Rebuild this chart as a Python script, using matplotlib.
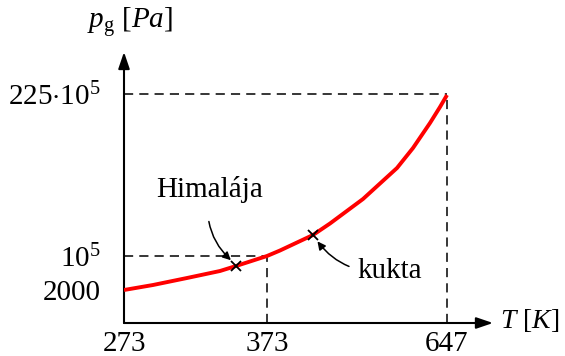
import numpy as np
import matplotlib
matplotlib.use("Agg")
import matplotlib.pyplot as plt

plt.rcParams['font.family'] = ['Liberation Serif', 'DejaVu Serif']
plt.rcParams['mathtext.fontset'] = 'custom'
plt.rcParams['mathtext.rm'] = 'Liberation Serif'
plt.rcParams['mathtext.it'] = 'Liberation Serif:italic'

# schematic (not to scale) positions
curve_x = [0, 29, 63, 96, 112, 143, 156, 189, 206, 239, 273, 289, 306, 316, 323]
curve_y = [33, 38, 45, 52, 57, 67, 72.5, 88, 99.5, 124, 155, 175, 200, 216, 228]

x_ticks = [1, 143, 323]
x_labels = ['273', '373', '647']
y_ticks = [33, 67, 229]
y_labels = ['2000', '$10^5$', '$225{\\cdot}10^5$']

# marked points: Himalaja, pressure cooker
mark_x = [112, 189]
mark_y = [57, 88]

fig = plt.figure(figsize=(5.65, 3.56), dpi=100)
ax = fig.add_axes([124/565, 33/356, 369/565, 271/356])
ax.set_xlim(0, 369)
ax.set_ylim(0, 271)
for s in ax.spines.values():
    s.set_visible(False)

# axes with arrows
axis_arrow = dict(arrowstyle='-|>,head_length=0.5,head_width=0.17', lw=1.5, color='k',
                  mutation_scale=20, shrinkA=0, shrinkB=0)
ax.annotate('', xy=(369, 0), xytext=(0, 0), arrowprops=axis_arrow, annotation_clip=False)
ax.annotate('', xy=(0, 271), xytext=(0, 0), arrowprops=axis_arrow, annotation_clip=False)

# dashed guide lines
dash = dict(color='k', lw=1.1, linestyle=(0, (6, 4)))
ax.plot([0, x_ticks[1]], [y_ticks[1], y_ticks[1]], **dash)
ax.plot([x_ticks[1], x_ticks[1]], [0, y_ticks[1]], **dash)
ax.plot([0, x_ticks[2]], [y_ticks[2], y_ticks[2]], **dash)
ax.plot([x_ticks[2], x_ticks[2]], [0, y_ticks[2]], **dash)

# vapour pressure curve
ax.plot(curve_x, curve_y, color='red', lw=2.8, solid_capstyle='butt',
        solid_joinstyle='round', zorder=3)
ax.plot(mark_x, mark_y, 'x', color='k', ms=7, mew=1.3, zorder=4)

ax.set_xticks(x_ticks)
ax.set_xticklabels(x_labels, fontsize=21)
ax.set_yticks(y_ticks)
ax.set_yticklabels(y_labels, fontsize=21)
ax.tick_params(length=0)
ax.tick_params(axis='x', pad=6)
ax.tick_params(axis='y', pad=17)

ax.text(6, 301, '$p_{\\mathrm{g}}$ $[Pa]$', fontsize=21, ha='center', va='center')
ax.text(376, 3, '$T$ $[K]$', fontsize=20, ha='left', va='center')

ax.annotate('Himalája', xy=(110, 60), xytext=(86, 133), fontsize=21,
            ha='center', va='center',
            arrowprops=dict(arrowstyle='-|>', color='k', lw=1.1, mutation_scale=12,
                            connectionstyle='arc3,rad=0.3', shrinkA=11, shrinkB=3))
ax.annotate('kukta', xy=(191, 85), xytext=(233, 52), fontsize=21,
            ha='left', va='center',
            arrowprops=dict(arrowstyle='-|>', color='k', lw=1.1, mutation_scale=12,
                            connectionstyle='arc3,rad=-0.3', shrinkA=4, shrinkB=3))

fig.savefig('out.png', dpi=100)
